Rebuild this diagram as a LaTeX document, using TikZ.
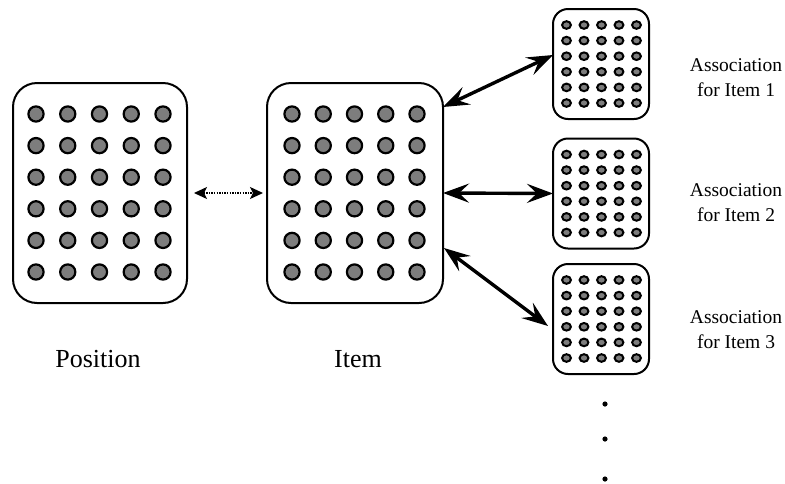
\documentclass[tikz,border=0pt]{standalone}
\usepackage{fontspec}
\setmainfont{Liberation Serif}
\usetikzlibrary{arrows.meta,calc}
\definecolor{dotgray}{RGB}{125,125,125}
\tikzset{
  bigbox/.style={draw, line width=2pt, rounded corners=24pt, inner sep=0pt, outer sep=0pt, fill=white},
  smallbox/.style={draw, line width=2pt, rounded corners=15pt, inner sep=0pt, outer sep=0pt, fill=white,
    minimum width=96pt, minimum height=110pt},
  bigdot/.style={draw, line width=2.2pt, fill=dotgray},
  smalldot/.style={draw, line width=2pt, fill=dotgray},
  assoc/.style={line width=3.4pt, {Stealth[length=26pt,width=19pt,inset=10pt]}-{Stealth[length=26pt,width=19pt,inset=10pt]}},
  dotarrow/.style={line width=1.4pt, dash pattern=on 1.4pt off 1.2pt, {Stealth[length=13pt,width=12pt,inset=3pt]}-{Stealth[length=13pt,width=12pt,inset=3pt]}},
  biglabel/.style={anchor=base, font=\fontsize{26}{30}\selectfont},
  smalllabel/.style={align=center, font=\fontsize{19.5}{25}\selectfont, inner sep=0pt}
}
\begin{document}
\begin{tikzpicture}[x=1pt,y=-1pt]
\useasboundingbox (0,0) rectangle (785,483);

% big boxes
\node[bigbox, minimum width=174pt, minimum height=220pt] (pos) at (100,193) {};
\node[bigbox, minimum width=176pt, minimum height=220pt] (item) at (355,193) {};
\foreach \r in {0,...,5} {
  \foreach \c in {0,...,4} {
    \draw[bigdot] (36+31.75*\c, 114+31.6*\r) circle (7.6);
    \draw[bigdot] (292+31.25*\c, 114+31.6*\r) circle (7.6);
  }
}

% small boxes
\node[smallbox] (a1) at (601,64) {};
\node[smallbox] (a2) at (601,193.5) {};
\node[smallbox] (a3) at (601,319) {};
\foreach \cy in {64,193.5,319} {
  \foreach \r in {0,...,5} {
    \foreach \c in {0,...,4} {
      \draw[smalldot] (566.5+17.5*\c, \cy-39+15.6*\r) ellipse (4.4 and 3.8);
    }
  }
}

% connectors
\draw[dotarrow, shorten <=7pt, shorten >=4pt] (pos.east) -- (item.west);
\coordinate (i1) at ($(item.north east)+(0,24)$);
\coordinate (t1) at ($(a1.west)+(0,-9)$);
\coordinate (i3) at ($(item.south east)+(1,-55)$);
\coordinate (t3) at ($(a3.west)+(-5,7)$);
\draw[assoc] (i1) -- (t1);
\draw[assoc] (item.east) -- (a2.west);
\draw[assoc] (i3) -- (t3);

% labels
\node[biglabel] (lpos) at (98,367) {Position};
\node[biglabel] (litem) at (358,367) {Item};
\node[smalllabel] (l1) at (736,77.5) {Association\\for Item 1};
\node[smalllabel] (l2) at (736,203) {Association\\for Item 2};
\node[smalllabel] (l3) at (736,329.5) {Association\\for Item 3};

% ellipsis dots
\fill (605,404) circle (2.6) (605,439) circle (2.6) (605,479) circle (2.6);
\end{tikzpicture}
\end{document}
